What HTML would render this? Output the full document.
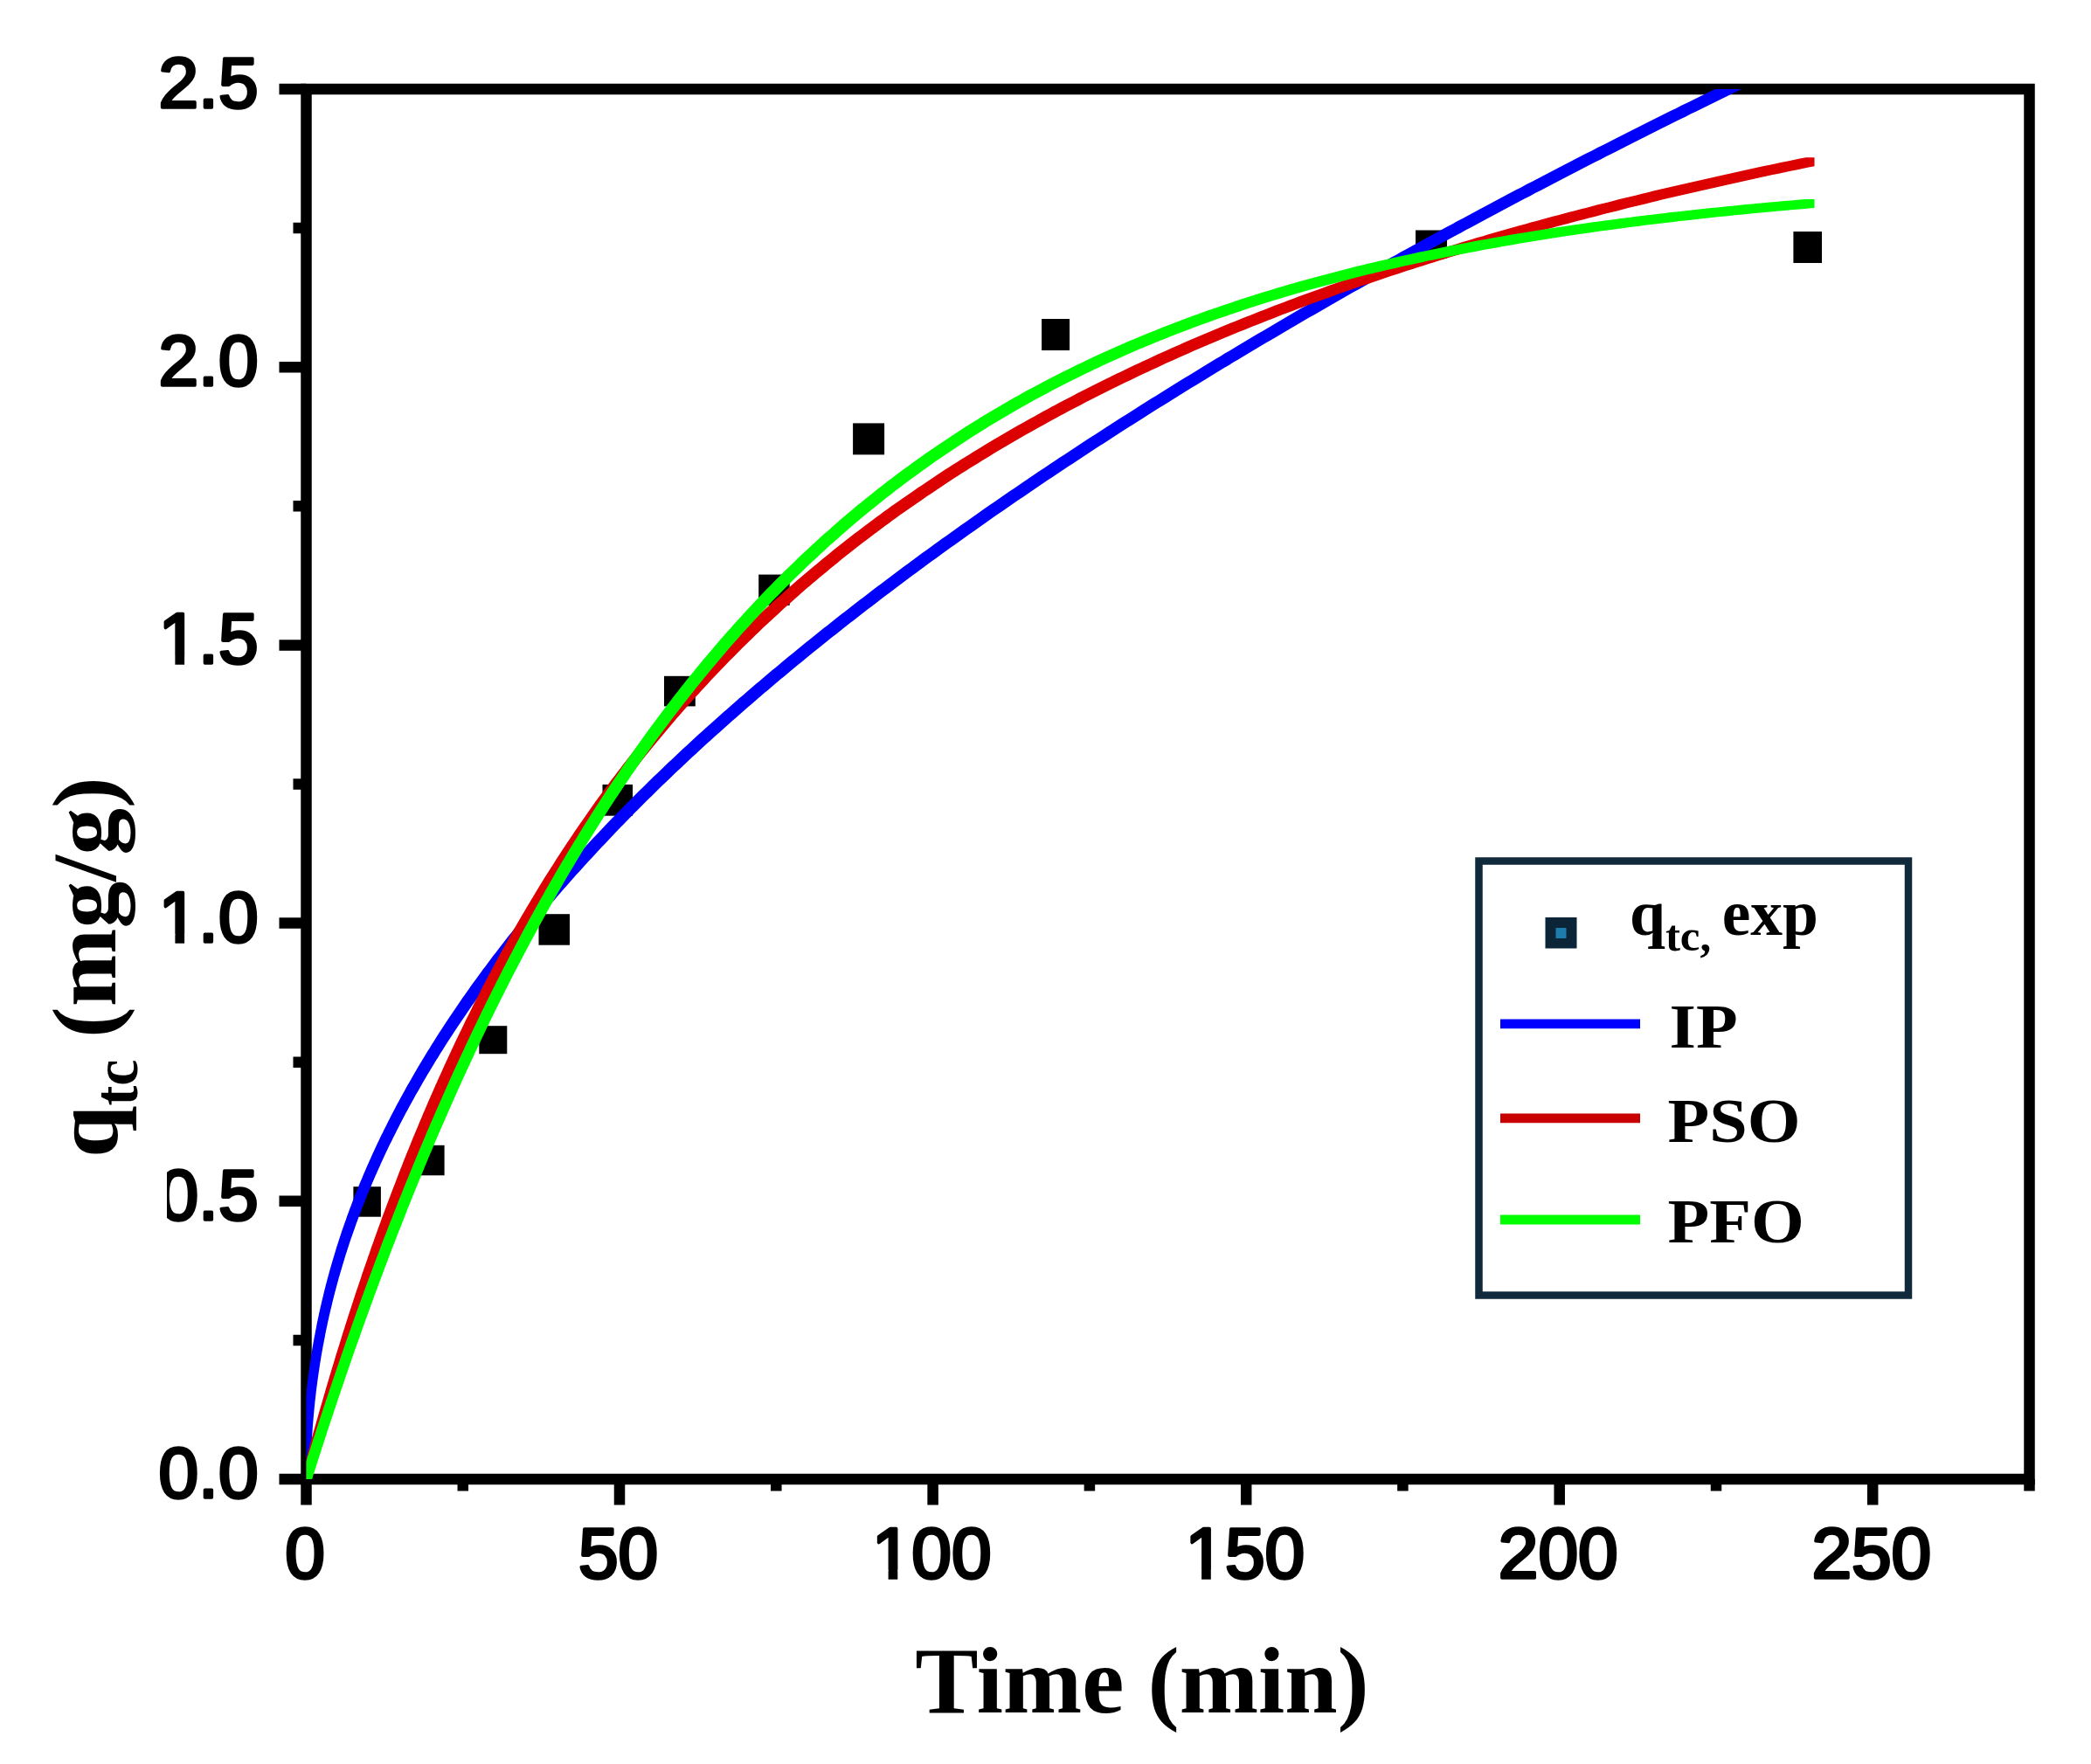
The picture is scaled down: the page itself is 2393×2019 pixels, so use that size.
<!DOCTYPE html>
<html lang="en"><head><meta charset="utf-8"><title>Adsorption kinetics</title>
<style>html,body{margin:0;padding:0;background:#fff;overflow:hidden}svg{display:block}.tk{font-family:"Liberation Sans",sans-serif;font-weight:normal;font-size:82px;fill:#000;stroke:#000;stroke-width:3.6px;stroke-linejoin:round}.ti{font-family:"Liberation Serif",serif;font-weight:bold;fill:#000}</style></head><body>
<svg width="2393" height="2019" viewBox="0 0 2393 2019">
<rect width="2393" height="2019" fill="#fff"/>
<defs><clipPath id="pc"><rect x="350.5" y="102" width="1972" height="1591"/></clipPath></defs>
<rect x="350.5" y="102" width="1972" height="1591" fill="none" stroke="#000" stroke-width="12.5"/>
<path d="M319.5,1693.0H350.5 M319.5,1374.8H350.5 M319.5,1056.6H350.5 M319.5,738.4H350.5 M319.5,420.2H350.5 M319.5,102.0H350.5 M335.5,1533.9H350.5 M335.5,1215.7H350.5 M335.5,897.5H350.5 M335.5,579.3H350.5 M335.5,261.1H350.5 M350.5,1693V1722.5 M709.0,1693V1722.5 M1067.6,1693V1722.5 M1426.2,1693V1722.5 M1784.7,1693V1722.5 M2143.2,1693V1722.5 M529.8,1693V1706.5 M888.3,1693V1706.5 M1246.9,1693V1706.5 M1605.4,1693V1706.5 M1964.0,1693V1706.5 M2322.5,1693V1706.5" stroke="#000" stroke-width="12.5" fill="none"/>
<text class="tk" x="295.5" y="1714.0" text-anchor="end">0.0</text>
<text class="tk" x="295.5" y="1395.8" text-anchor="end">0.5</text>
<text class="tk" x="295.5" y="1077.6" text-anchor="end">1.0</text>
<text class="tk" x="295.5" y="759.4" text-anchor="end">1.5</text>
<text class="tk" x="295.5" y="441.2" text-anchor="end">2.0</text>
<text class="tk" x="295.5" y="123.0" text-anchor="end">2.5</text>
<rect x="160" y="1335" width="31" height="80" fill="#fff"/>
<text class="tk" x="349.0" y="1805.5" text-anchor="middle">0</text>
<text class="tk" x="707.5" y="1805.5" text-anchor="middle">50</text>
<text class="tk" x="1066.1" y="1805.5" text-anchor="middle">100</text>
<text class="tk" x="1424.7" y="1805.5" text-anchor="middle">150</text>
<text class="tk" x="1783.2" y="1805.5" text-anchor="middle">200</text>
<text class="tk" x="2141.8" y="1805.5" text-anchor="middle">250</text>
<rect x="999.7" y="1796.9" width="16.9" height="12" fill="#fff"/>
<rect x="1027.3" y="1796.9" width="15.4" height="12" fill="#fff"/>
<rect x="1358.2" y="1796.9" width="16.9" height="12" fill="#fff"/>
<rect x="1385.8" y="1796.9" width="15.4" height="12" fill="#fff"/>
<rect x="183.5" y="1069.0" width="16.9" height="12" fill="#fff"/>
<rect x="211.1" y="1069.0" width="15.4" height="12" fill="#fff"/>
<rect x="183.5" y="750.8" width="16.9" height="12" fill="#fff"/>
<rect x="211.1" y="750.8" width="15.4" height="12" fill="#fff"/>
<text class="ti" x="1307" y="1959.5" font-size="108.5" text-anchor="middle">Time (min)</text>
<text class="ti" transform="translate(134,1325) rotate(-90) scale(1.03,1)" font-size="104">q</text>
<text class="ti" transform="translate(156.5,1265.5) rotate(-90) scale(0.96,1)" font-size="71">tc</text>
<text class="ti" transform="translate(132,1188) rotate(-90) scale(1.035,1)" font-size="104">(mg/g)</text>
<rect x="404.4" y="1358.2" width="31.5" height="34.5" fill="#000"/>
<rect x="476.6" y="1310.8" width="32" height="34.5" fill="#000"/>
<rect x="548.3" y="1174.2" width="32" height="32" fill="#000"/>
<rect x="616.5" y="1046.2" width="35.5" height="35.5" fill="#000"/>
<rect x="689.5" y="897.9" width="34.6" height="35.8" fill="#000"/>
<rect x="760.0" y="773.8" width="35.8" height="34.6" fill="#000"/>
<rect x="868.2" y="657.6" width="35.5" height="35.3" fill="#000"/>
<rect x="976.1" y="484.4" width="36" height="36" fill="#000"/>
<rect x="1192.1" y="365.0" width="32" height="36" fill="#000"/>
<rect x="1620.0" y="263.5" width="36" height="32" fill="#000"/>
<rect x="2052.4" y="265.0" width="32.6" height="36" fill="#000"/>
<g clip-path="url(#pc)" stroke="none">
<path d="M345.5,1698.0 L345.5,1688.0 L345.5,1684.5 L345.5,1681.1 L345.6,1677.6 L345.6,1674.2 L345.7,1670.7 L345.7,1667.2 L345.8,1663.8 L345.9,1660.3 L346.0,1656.9 L346.2,1653.4 L346.3,1650.0 L346.5,1646.5 L346.6,1643.1 L346.8,1639.6 L347.0,1636.2 L347.2,1632.7 L347.5,1629.3 L347.7,1625.8 L347.9,1622.4 L348.2,1618.9 L348.5,1615.5 L348.8,1612.0 L349.1,1608.6 L349.4,1605.2 L349.7,1601.7 L350.1,1598.3 L350.4,1594.9 L350.8,1591.4 L351.2,1588.0 L351.6,1584.6 L352.0,1581.1 L352.4,1577.7 L352.9,1574.3 L353.3,1570.9 L353.8,1567.5 L354.3,1564.0 L354.8,1560.6 L355.3,1557.2 L355.8,1553.8 L356.3,1550.4 L356.9,1547.0 L357.4,1543.6 L358.0,1540.2 L358.6,1536.8 L359.2,1533.4 L359.8,1530.0 L360.5,1526.7 L361.1,1523.3 L361.8,1519.9 L362.4,1516.5 L363.1,1513.1 L363.8,1509.8 L364.5,1506.4 L365.2,1503.0 L366.0,1499.7 L366.7,1496.3 L367.5,1492.9 L368.3,1489.6 L369.1,1486.2 L369.9,1482.9 L370.7,1479.5 L371.5,1476.2 L372.4,1472.8 L373.2,1469.5 L374.1,1466.2 L375.0,1462.8 L375.9,1459.5 L376.8,1456.2 L377.7,1452.8 L378.7,1449.5 L379.6,1446.2 L380.6,1442.9 L381.6,1439.6 L382.6,1436.3 L383.6,1432.9 L384.6,1429.6 L385.6,1426.3 L386.7,1423.0 L387.7,1419.7 L388.8,1416.4 L389.9,1413.1 L391.0,1409.8 L392.1,1406.6 L393.3,1403.3 L394.4,1400.0 L395.6,1396.7 L396.7,1393.4 L397.9,1390.1 L399.1,1386.9 L400.3,1383.6 L401.6,1380.3 L402.8,1377.0 L404.0,1373.8 L405.3,1370.5 L406.6,1367.2 L407.9,1364.0 L409.2,1360.7 L410.5,1357.5 L411.8,1354.2 L413.2,1351.0 L414.6,1347.7 L415.9,1344.5 L417.3,1341.2 L418.7,1338.0 L420.1,1334.7 L421.6,1331.5 L423.0,1328.2 L424.5,1325.0 L425.9,1321.7 L427.4,1318.5 L428.9,1315.3 L430.4,1312.0 L431.9,1308.8 L433.5,1305.6 L435.0,1302.3 L436.6,1299.1 L438.2,1295.9 L439.8,1292.6 L441.4,1289.4 L443.0,1286.2 L444.6,1283.0 L446.3,1279.7 L447.9,1276.5 L449.6,1273.3 L451.3,1270.1 L453.0,1266.8 L454.7,1263.6 L456.4,1260.4 L458.1,1257.2 L459.9,1254.0 L461.7,1250.7 L463.5,1247.5 L465.2,1244.3 L467.1,1241.1 L468.9,1237.9 L470.7,1234.7 L472.6,1231.5 L474.4,1228.2 L476.3,1225.0 L478.2,1221.8 L480.1,1218.6 L482.0,1215.4 L483.9,1212.2 L485.9,1209.0 L487.8,1205.8 L489.8,1202.6 L491.8,1199.4 L493.8,1196.1 L495.8,1192.9 L497.8,1189.7 L499.8,1186.5 L501.9,1183.3 L504.0,1180.1 L506.0,1176.9 L508.1,1173.7 L510.2,1170.5 L512.4,1167.3 L514.5,1164.1 L516.6,1160.9 L518.8,1157.7 L521.0,1154.5 L523.2,1151.2 L525.4,1148.0 L527.6,1144.8 L529.8,1141.6 L532.0,1138.4 L534.3,1135.2 L536.6,1132.0 L538.8,1128.8 L541.1,1125.6 L543.4,1122.4 L545.8,1119.2 L548.1,1116.0 L550.5,1112.8 L552.8,1109.6 L555.2,1106.4 L557.6,1103.2 L560.0,1100.0 L562.4,1096.8 L564.8,1093.6 L567.3,1090.4 L569.7,1087.2 L572.2,1084.0 L574.7,1080.8 L577.2,1077.5 L579.7,1074.3 L582.2,1071.1 L584.8,1067.9 L587.3,1064.7 L589.9,1061.5 L592.5,1058.3 L595.0,1055.1 L597.7,1051.9 L600.3,1048.7 L602.9,1045.5 L605.6,1042.3 L608.2,1039.1 L610.9,1035.9 L613.6,1032.7 L616.3,1029.5 L619.0,1026.3 L621.7,1023.1 L624.5,1019.9 L627.2,1016.7 L630.0,1013.5 L632.8,1010.3 L635.6,1007.1 L638.4,1003.9 L641.2,1000.7 L644.0,997.5 L646.9,994.3 L649.7,991.1 L652.6,987.9 L655.5,984.7 L658.4,981.5 L661.3,978.3 L664.3,975.1 L667.2,971.9 L670.2,968.7 L673.1,965.5 L676.1,962.3 L679.1,959.1 L682.1,955.9 L685.2,952.7 L688.2,949.5 L691.3,946.2 L694.3,943.0 L697.4,939.8 L700.5,936.6 L703.6,933.4 L706.7,930.2 L709.9,927.0 L713.0,923.8 L716.2,920.6 L719.3,917.4 L722.5,914.2 L725.7,911.0 L728.9,907.8 L732.2,904.6 L735.4,901.4 L738.7,898.2 L741.9,895.0 L745.2,891.8 L748.5,888.6 L751.8,885.4 L755.2,882.2 L758.5,879.0 L761.8,875.8 L765.2,872.6 L768.6,869.4 L772.0,866.2 L775.4,863.0 L778.8,859.8 L782.2,856.6 L785.7,853.4 L789.1,850.2 L792.6,847.0 L796.1,843.8 L799.6,840.6 L803.1,837.5 L806.6,834.3 L810.2,831.1 L813.7,827.9 L817.3,824.7 L820.9,821.5 L824.5,818.3 L828.1,815.1 L831.7,811.9 L835.3,808.7 L839.0,805.5 L842.7,802.3 L846.3,799.1 L850.0,795.9 L853.7,792.7 L857.4,789.5 L861.2,786.3 L864.9,783.1 L868.7,779.9 L872.4,776.7 L876.2,773.5 L880.0,770.3 L883.8,767.1 L887.7,763.9 L891.5,760.7 L895.3,757.5 L899.2,754.3 L903.1,751.1 L907.0,747.9 L910.9,744.7 L914.8,741.5 L918.7,738.3 L922.7,735.1 L926.6,731.9 L930.6,728.7 L934.6,725.5 L938.6,722.3 L942.6,719.1 L946.7,715.9 L950.7,712.7 L954.7,709.5 L958.8,706.3 L962.9,703.1 L967.0,699.9 L971.1,696.7 L975.2,693.5 L979.4,690.3 L983.5,687.1 L987.7,683.9 L991.9,680.7 L996.0,677.5 L1000.2,674.3 L1004.5,671.1 L1008.7,667.9 L1012.9,664.7 L1017.2,661.4 L1021.5,658.2 L1025.8,655.0 L1030.1,651.8 L1034.4,648.6 L1038.7,645.4 L1043.0,642.2 L1047.4,639.0 L1051.7,635.8 L1056.1,632.6 L1060.5,629.4 L1064.9,626.2 L1069.3,623.0 L1073.8,619.8 L1078.2,616.6 L1082.7,613.4 L1087.2,610.2 L1091.7,607.0 L1096.2,603.8 L1100.7,600.6 L1105.2,597.4 L1109.7,594.2 L1114.3,591.0 L1118.9,587.8 L1123.4,584.5 L1128.0,581.3 L1132.7,578.1 L1137.3,574.9 L1141.9,571.7 L1146.6,568.5 L1151.2,565.3 L1155.9,562.1 L1160.6,558.9 L1165.3,555.7 L1170.0,552.5 L1174.8,549.3 L1179.5,546.1 L1184.3,542.8 L1189.0,539.6 L1193.8,536.4 L1198.6,533.2 L1203.4,530.0 L1208.3,526.8 L1213.1,523.6 L1218.0,520.4 L1222.8,517.2 L1227.7,514.0 L1232.6,510.7 L1237.5,507.5 L1242.4,504.3 L1247.4,501.1 L1252.3,497.9 L1257.3,494.7 L1262.2,491.5 L1267.2,488.3 L1272.2,485.0 L1277.3,481.8 L1282.3,478.6 L1287.3,475.4 L1292.4,472.2 L1297.5,469.0 L1302.5,465.8 L1307.6,462.5 L1312.7,459.3 L1317.9,456.1 L1323.0,452.9 L1328.2,449.7 L1333.3,446.5 L1338.5,443.3 L1343.7,440.0 L1348.9,436.8 L1354.1,433.6 L1359.3,430.4 L1364.6,427.2 L1369.9,424.0 L1375.1,420.7 L1380.4,417.5 L1385.7,414.3 L1391.0,411.1 L1396.4,407.9 L1401.7,404.6 L1407.1,401.4 L1412.4,398.2 L1417.8,395.0 L1423.2,391.8 L1428.6,388.5 L1434.0,385.3 L1439.5,382.1 L1444.9,378.9 L1450.4,375.7 L1455.9,372.4 L1461.3,369.2 L1466.8,366.0 L1472.4,362.8 L1477.9,359.6 L1483.4,356.3 L1489.0,353.1 L1494.6,349.9 L1500.2,346.7 L1505.8,343.4 L1511.4,340.2 L1517.0,337.0 L1522.6,333.8 L1528.3,330.6 L1533.9,327.3 L1539.6,324.1 L1545.3,320.9 L1551.0,317.7 L1556.7,314.4 L1562.5,311.2 L1568.2,308.0 L1574.0,304.8 L1579.8,301.5 L1585.6,298.3 L1591.4,295.1 L1597.2,291.9 L1603.0,288.6 L1608.8,285.4 L1614.7,282.2 L1620.6,279.0 L1626.4,275.7 L1632.3,272.5 L1638.3,269.3 L1644.2,266.0 L1650.1,262.8 L1656.1,259.6 L1662.0,256.4 L1668.0,253.1 L1674.0,249.9 L1680.0,246.7 L1686.0,243.4 L1692.0,240.2 L1698.1,237.0 L1704.2,233.8 L1710.2,230.5 L1716.3,227.3 L1722.4,224.1 L1728.5,220.8 L1734.6,217.6 L1740.8,214.4 L1746.9,211.1 L1753.1,207.9 L1759.3,204.7 L1765.5,201.5 L1771.7,198.2 L1777.9,195.0 L1784.1,191.8 L1790.4,188.5 L1796.7,185.3 L1802.9,182.1 L1809.2,178.8 L1815.5,175.6 L1821.8,172.4 L1828.2,169.1 L1834.5,165.9 L1840.9,162.7 L1847.2,159.4 L1853.6,156.2 L1860.0,153.0 L1866.4,149.7 L1872.9,146.5 L1879.3,143.3 L1885.7,140.0 L1892.2,136.8 L1898.7,133.6 L1905.2,130.3 L1911.7,127.1 L1918.2,123.9 L1924.7,120.6 L1931.3,117.4 L1937.8,114.2 L1944.4,110.9 L1951.0,107.7 L1957.6,104.5 L1964.2,101.2 L1970.8,98.0 L1977.5,94.8 L1984.1,91.5 L1990.8,88.3 L1997.5,85.0 L2004.2,81.8 L2010.9,78.6 L2017.6,75.3 L2024.3,72.1 L2031.1,68.9 L2037.9,65.6 L2047.9,65.6 L2047.9,75.6 L2041.1,78.9 L2034.3,82.1 L2027.6,85.3 L2020.9,88.6 L2014.2,91.8 L2007.5,95.0 L2000.8,98.3 L1994.1,101.5 L1987.5,104.8 L1980.8,108.0 L1974.2,111.2 L1967.6,114.5 L1961.0,117.7 L1954.4,120.9 L1947.8,124.2 L1941.3,127.4 L1934.7,130.6 L1928.2,133.9 L1921.7,137.1 L1915.2,140.3 L1908.7,143.6 L1902.2,146.8 L1895.7,150.0 L1889.3,153.3 L1882.9,156.5 L1876.4,159.7 L1870.0,163.0 L1863.6,166.2 L1857.2,169.4 L1850.9,172.7 L1844.5,175.9 L1838.2,179.1 L1831.8,182.4 L1825.5,185.6 L1819.2,188.8 L1812.9,192.1 L1806.7,195.3 L1800.4,198.5 L1794.1,201.8 L1787.9,205.0 L1781.7,208.2 L1775.5,211.5 L1769.3,214.7 L1763.1,217.9 L1756.9,221.1 L1750.8,224.4 L1744.6,227.6 L1738.5,230.8 L1732.4,234.1 L1726.3,237.3 L1720.2,240.5 L1714.2,243.8 L1708.1,247.0 L1702.0,250.2 L1696.0,253.4 L1690.0,256.7 L1684.0,259.9 L1678.0,263.1 L1672.0,266.4 L1666.1,269.6 L1660.1,272.8 L1654.2,276.0 L1648.3,279.3 L1642.3,282.5 L1636.4,285.7 L1630.6,289.0 L1624.7,292.2 L1618.8,295.4 L1613.0,298.6 L1607.2,301.9 L1601.4,305.1 L1595.6,308.3 L1589.8,311.5 L1584.0,314.8 L1578.2,318.0 L1572.5,321.2 L1566.7,324.4 L1561.0,327.7 L1555.3,330.9 L1549.6,334.1 L1543.9,337.3 L1538.3,340.6 L1532.6,343.8 L1527.0,347.0 L1521.4,350.2 L1515.8,353.4 L1510.2,356.7 L1504.6,359.9 L1499.0,363.1 L1493.4,366.3 L1487.9,369.6 L1482.4,372.8 L1476.8,376.0 L1471.3,379.2 L1465.9,382.4 L1460.4,385.7 L1454.9,388.9 L1449.5,392.1 L1444.0,395.3 L1438.6,398.5 L1433.2,401.8 L1427.8,405.0 L1422.4,408.2 L1417.1,411.4 L1411.7,414.6 L1406.4,417.9 L1401.0,421.1 L1395.7,424.3 L1390.4,427.5 L1385.1,430.7 L1379.9,434.0 L1374.6,437.2 L1369.3,440.4 L1364.1,443.6 L1358.9,446.8 L1353.7,450.0 L1348.5,453.3 L1343.3,456.5 L1338.2,459.7 L1333.0,462.9 L1327.9,466.1 L1322.7,469.3 L1317.6,472.5 L1312.5,475.8 L1307.5,479.0 L1302.4,482.2 L1297.3,485.4 L1292.3,488.6 L1287.3,491.8 L1282.2,495.0 L1277.2,498.3 L1272.2,501.5 L1267.3,504.7 L1262.3,507.9 L1257.4,511.1 L1252.4,514.3 L1247.5,517.5 L1242.6,520.7 L1237.7,524.0 L1232.8,527.2 L1228.0,530.4 L1223.1,533.6 L1218.3,536.8 L1213.4,540.0 L1208.6,543.2 L1203.8,546.4 L1199.0,549.6 L1194.3,552.8 L1189.5,556.1 L1184.8,559.3 L1180.0,562.5 L1175.3,565.7 L1170.6,568.9 L1165.9,572.1 L1161.2,575.3 L1156.6,578.5 L1151.9,581.7 L1147.3,584.9 L1142.7,588.1 L1138.0,591.3 L1133.4,594.5 L1128.9,597.8 L1124.3,601.0 L1119.7,604.2 L1115.2,607.4 L1110.7,610.6 L1106.2,613.8 L1101.7,617.0 L1097.2,620.2 L1092.7,623.4 L1088.2,626.6 L1083.8,629.8 L1079.3,633.0 L1074.9,636.2 L1070.5,639.4 L1066.1,642.6 L1061.7,645.8 L1057.4,649.0 L1053.0,652.2 L1048.7,655.4 L1044.4,658.6 L1040.1,661.8 L1035.8,665.0 L1031.5,668.2 L1027.2,671.4 L1022.9,674.7 L1018.7,677.9 L1014.5,681.1 L1010.2,684.3 L1006.0,687.5 L1001.9,690.7 L997.7,693.9 L993.5,697.1 L989.4,700.3 L985.2,703.5 L981.1,706.7 L977.0,709.9 L972.9,713.1 L968.8,716.3 L964.7,719.5 L960.7,722.7 L956.7,725.9 L952.6,729.1 L948.6,732.3 L944.6,735.5 L940.6,738.7 L936.6,741.9 L932.7,745.1 L928.7,748.3 L924.8,751.5 L920.9,754.7 L917.0,757.9 L913.1,761.1 L909.2,764.3 L905.3,767.5 L901.5,770.7 L897.7,773.9 L893.8,777.1 L890.0,780.3 L886.2,783.5 L882.4,786.7 L878.7,789.9 L874.9,793.1 L871.2,796.3 L867.4,799.5 L863.7,802.7 L860.0,805.9 L856.3,809.1 L852.7,812.3 L849.0,815.5 L845.3,818.7 L841.7,821.9 L838.1,825.1 L834.5,828.3 L830.9,831.5 L827.3,834.7 L823.7,837.9 L820.2,841.1 L816.6,844.3 L813.1,847.5 L809.6,850.6 L806.1,853.8 L802.6,857.0 L799.1,860.2 L795.7,863.4 L792.2,866.6 L788.8,869.8 L785.4,873.0 L782.0,876.2 L778.6,879.4 L775.2,882.6 L771.8,885.8 L768.5,889.0 L765.2,892.2 L761.8,895.4 L758.5,898.6 L755.2,901.8 L751.9,905.0 L748.7,908.2 L745.4,911.4 L742.2,914.6 L738.9,917.8 L735.7,921.0 L732.5,924.2 L729.3,927.4 L726.2,930.6 L723.0,933.8 L719.9,937.0 L716.7,940.2 L713.6,943.4 L710.5,946.6 L707.4,949.8 L704.3,953.0 L701.3,956.2 L698.2,959.5 L695.2,962.7 L692.1,965.9 L689.1,969.1 L686.1,972.3 L683.1,975.5 L680.2,978.7 L677.2,981.9 L674.3,985.1 L671.3,988.3 L668.4,991.5 L665.5,994.7 L662.6,997.9 L659.7,1001.1 L656.9,1004.3 L654.0,1007.5 L651.2,1010.7 L648.4,1013.9 L645.6,1017.1 L642.8,1020.3 L640.0,1023.5 L637.2,1026.7 L634.5,1029.9 L631.7,1033.1 L629.0,1036.3 L626.3,1039.5 L623.6,1042.7 L620.9,1045.9 L618.2,1049.1 L615.6,1052.3 L612.9,1055.5 L610.3,1058.7 L607.7,1061.9 L605.0,1065.1 L602.5,1068.3 L599.9,1071.5 L597.3,1074.7 L594.8,1077.9 L592.2,1081.1 L589.7,1084.3 L587.2,1087.5 L584.7,1090.8 L582.2,1094.0 L579.7,1097.2 L577.3,1100.4 L574.8,1103.6 L572.4,1106.8 L570.0,1110.0 L567.6,1113.2 L565.2,1116.4 L562.8,1119.6 L560.5,1122.8 L558.1,1126.0 L555.8,1129.2 L553.4,1132.4 L551.1,1135.6 L548.8,1138.8 L546.6,1142.0 L544.3,1145.2 L542.0,1148.4 L539.8,1151.6 L537.6,1154.8 L535.4,1158.0 L533.2,1161.2 L531.0,1164.5 L528.8,1167.7 L526.6,1170.9 L524.5,1174.1 L522.4,1177.3 L520.2,1180.5 L518.1,1183.7 L516.0,1186.9 L514.0,1190.1 L511.9,1193.3 L509.8,1196.5 L507.8,1199.7 L505.8,1202.9 L503.8,1206.1 L501.8,1209.4 L499.8,1212.6 L497.8,1215.8 L495.9,1219.0 L493.9,1222.2 L492.0,1225.4 L490.1,1228.6 L488.2,1231.8 L486.3,1235.0 L484.4,1238.2 L482.6,1241.5 L480.7,1244.7 L478.9,1247.9 L477.1,1251.1 L475.2,1254.3 L473.5,1257.5 L471.7,1260.7 L469.9,1264.0 L468.1,1267.2 L466.4,1270.4 L464.7,1273.6 L463.0,1276.8 L461.3,1280.1 L459.6,1283.3 L457.9,1286.5 L456.3,1289.7 L454.6,1293.0 L453.0,1296.2 L451.4,1299.4 L449.8,1302.6 L448.2,1305.9 L446.6,1309.1 L445.0,1312.3 L443.5,1315.6 L441.9,1318.8 L440.4,1322.0 L438.9,1325.3 L437.4,1328.5 L435.9,1331.7 L434.5,1335.0 L433.0,1338.2 L431.6,1341.5 L430.1,1344.7 L428.7,1348.0 L427.3,1351.2 L425.9,1354.5 L424.6,1357.7 L423.2,1361.0 L421.8,1364.2 L420.5,1367.5 L419.2,1370.7 L417.9,1374.0 L416.6,1377.2 L415.3,1380.5 L414.0,1383.8 L412.8,1387.0 L411.6,1390.3 L410.3,1393.6 L409.1,1396.9 L407.9,1400.1 L406.7,1403.4 L405.6,1406.7 L404.4,1410.0 L403.3,1413.3 L402.1,1416.6 L401.0,1419.8 L399.9,1423.1 L398.8,1426.4 L397.7,1429.7 L396.7,1433.0 L395.6,1436.3 L394.6,1439.6 L393.6,1442.9 L392.6,1446.3 L391.6,1449.6 L390.6,1452.9 L389.6,1456.2 L388.7,1459.5 L387.7,1462.8 L386.8,1466.2 L385.9,1469.5 L385.0,1472.8 L384.1,1476.2 L383.2,1479.5 L382.4,1482.8 L381.5,1486.2 L380.7,1489.5 L379.9,1492.9 L379.1,1496.2 L378.3,1499.6 L377.5,1502.9 L376.7,1506.3 L376.0,1509.7 L375.2,1513.0 L374.5,1516.4 L373.8,1519.8 L373.1,1523.1 L372.4,1526.5 L371.8,1529.9 L371.1,1533.3 L370.5,1536.7 L369.8,1540.0 L369.2,1543.4 L368.6,1546.8 L368.0,1550.2 L367.4,1553.6 L366.9,1557.0 L366.3,1560.4 L365.8,1563.8 L365.3,1567.2 L364.8,1570.6 L364.3,1574.0 L363.8,1577.5 L363.3,1580.9 L362.9,1584.3 L362.4,1587.7 L362.0,1591.1 L361.6,1594.6 L361.2,1598.0 L360.8,1601.4 L360.4,1604.9 L360.1,1608.3 L359.7,1611.7 L359.4,1615.2 L359.1,1618.6 L358.8,1622.0 L358.5,1625.5 L358.2,1628.9 L357.9,1632.4 L357.7,1635.8 L357.5,1639.3 L357.2,1642.7 L357.0,1646.2 L356.8,1649.6 L356.6,1653.1 L356.5,1656.5 L356.3,1660.0 L356.2,1663.4 L356.0,1666.9 L355.9,1670.3 L355.8,1673.8 L355.7,1677.2 L355.7,1680.7 L355.6,1684.2 L355.6,1687.6 L355.5,1691.1 L355.5,1694.5 L355.5,1698.0Z" fill="#0000ff"/>
<path d="M345.5,1698.0 L345.5,1688.0 L345.5,1688.0 L345.5,1687.9 L345.6,1687.8 L345.6,1687.6 L345.7,1687.4 L345.7,1687.1 L345.8,1686.7 L345.9,1686.3 L346.1,1685.9 L346.2,1685.4 L346.3,1684.9 L346.5,1684.3 L346.7,1683.6 L346.8,1682.9 L347.0,1682.2 L347.3,1681.4 L347.5,1680.5 L347.7,1679.6 L348.0,1678.7 L348.3,1677.7 L348.5,1676.6 L348.8,1675.5 L349.1,1674.4 L349.5,1673.2 L349.8,1671.9 L350.2,1670.6 L350.5,1669.2 L350.9,1667.8 L351.3,1666.4 L351.7,1664.9 L352.1,1663.4 L352.5,1661.8 L353.0,1660.1 L353.5,1658.4 L353.9,1656.7 L354.4,1654.9 L354.9,1653.1 L355.4,1651.2 L356.0,1649.3 L356.5,1647.3 L357.1,1645.3 L357.6,1643.2 L358.2,1641.1 L358.8,1639.0 L359.4,1636.8 L360.1,1634.5 L360.7,1632.3 L361.4,1629.9 L362.0,1627.6 L362.7,1625.2 L363.4,1622.7 L364.1,1620.2 L364.8,1617.7 L365.6,1615.1 L366.3,1612.5 L367.1,1609.8 L367.9,1607.1 L368.7,1604.4 L369.5,1601.6 L370.3,1598.8 L371.1,1595.9 L372.0,1593.0 L372.8,1590.1 L373.7,1587.1 L374.6,1584.1 L375.5,1581.0 L376.4,1578.0 L377.3,1574.8 L378.3,1571.7 L379.2,1568.5 L380.2,1565.3 L381.2,1562.0 L382.2,1558.7 L383.2,1555.4 L384.2,1552.0 L385.3,1548.6 L386.3,1545.2 L387.4,1541.8 L388.5,1538.3 L389.6,1534.8 L390.7,1531.2 L391.8,1527.6 L392.9,1524.0 L394.1,1520.4 L395.2,1516.7 L396.4,1513.0 L397.6,1509.3 L398.8,1505.6 L400.0,1501.8 L401.3,1498.0 L402.5,1494.2 L403.8,1490.3 L405.0,1486.4 L406.3,1482.5 L407.6,1478.6 L408.9,1474.7 L410.3,1470.7 L411.6,1466.7 L413.0,1462.7 L414.3,1458.6 L415.7,1454.6 L417.1,1450.5 L418.5,1446.4 L420.0,1442.3 L421.4,1438.1 L422.9,1434.0 L424.3,1429.8 L425.8,1425.6 L427.3,1421.4 L428.8,1417.1 L430.3,1412.9 L431.9,1408.6 L433.4,1404.3 L435.0,1400.0 L436.5,1395.7 L438.1,1391.3 L439.7,1387.0 L441.4,1382.6 L443.0,1378.2 L444.6,1373.9 L446.3,1369.5 L448.0,1365.0 L449.7,1360.6 L451.4,1356.2 L453.1,1351.7 L454.8,1347.2 L456.5,1342.8 L458.3,1338.3 L460.1,1333.8 L461.8,1329.3 L463.6,1324.8 L465.4,1320.2 L467.3,1315.7 L469.1,1311.2 L471.0,1306.6 L472.8,1302.1 L474.7,1297.5 L476.6,1292.9 L478.5,1288.4 L480.4,1283.8 L482.4,1279.2 L484.3,1274.6 L486.3,1270.0 L488.2,1265.4 L490.2,1260.8 L492.2,1256.2 L494.3,1251.5 L496.3,1246.9 L498.3,1242.3 L500.4,1237.7 L502.5,1233.0 L504.6,1228.4 L506.7,1223.8 L508.8,1219.1 L510.9,1214.5 L513.0,1209.9 L515.2,1205.2 L517.4,1200.6 L519.5,1196.0 L521.7,1191.3 L523.9,1186.7 L526.2,1182.0 L528.4,1177.4 L530.7,1172.8 L532.9,1168.1 L535.2,1163.5 L537.5,1158.9 L539.8,1154.2 L542.1,1149.6 L544.5,1145.0 L546.8,1140.4 L549.2,1135.8 L551.5,1131.1 L553.9,1126.5 L556.3,1121.9 L558.7,1117.3 L561.2,1112.7 L563.6,1108.1 L566.1,1103.5 L568.5,1099.0 L571.0,1094.4 L573.5,1089.8 L576.0,1085.2 L578.6,1080.7 L581.1,1076.1 L583.7,1071.6 L586.2,1067.0 L588.8,1062.5 L591.4,1057.9 L594.0,1053.4 L596.6,1048.9 L599.3,1044.4 L601.9,1039.9 L604.6,1035.4 L607.3,1030.9 L610.0,1026.4 L612.7,1022.0 L615.4,1017.5 L618.1,1013.0 L620.9,1008.6 L623.6,1004.1 L626.4,999.7 L629.2,995.3 L632.0,990.9 L634.8,986.5 L637.6,982.1 L640.5,977.7 L643.3,973.3 L646.2,969.0 L649.1,964.6 L652.0,960.3 L654.9,955.9 L657.8,951.6 L660.8,947.3 L663.7,943.0 L666.7,938.7 L669.7,934.4 L672.7,930.1 L675.7,925.8 L678.7,921.6 L681.7,917.3 L684.8,913.1 L687.8,908.9 L690.9,904.7 L694.0,900.5 L697.1,896.3 L700.2,892.1 L703.4,888.0 L706.5,883.8 L709.7,879.7 L712.8,875.5 L716.0,871.4 L719.2,867.3 L722.4,863.2 L725.7,859.1 L728.9,855.1 L732.2,851.0 L735.4,846.9 L738.7,842.9 L742.0,838.9 L745.3,834.9 L748.7,830.9 L752.0,826.9 L755.4,822.9 L758.7,819.0 L762.1,815.0 L765.5,811.1 L768.9,807.2 L772.3,803.2 L775.8,799.3 L779.2,795.5 L782.7,791.6 L786.1,787.7 L789.6,783.9 L793.1,780.0 L796.7,776.2 L800.2,772.4 L803.7,768.6 L807.3,764.8 L810.9,761.1 L814.5,757.3 L818.1,753.6 L821.7,749.8 L825.3,746.1 L828.9,742.4 L832.6,738.7 L836.3,735.0 L839.9,731.3 L843.6,727.7 L847.4,724.1 L851.1,720.4 L854.8,716.8 L858.6,713.2 L862.3,709.6 L866.1,706.0 L869.9,702.5 L873.7,698.9 L877.5,695.4 L881.4,691.9 L885.2,688.3 L889.1,684.8 L893.0,681.4 L896.8,677.9 L900.7,674.4 L904.7,671.0 L908.6,667.5 L912.5,664.1 L916.5,660.7 L920.5,657.3 L924.5,653.9 L928.5,650.6 L932.5,647.2 L936.5,643.9 L940.5,640.5 L944.6,637.2 L948.7,633.9 L952.7,630.6 L956.8,627.3 L961.0,624.1 L965.1,620.8 L969.2,617.6 L973.4,614.3 L977.5,611.1 L981.7,607.9 L985.9,604.7 L990.1,601.5 L994.3,598.4 L998.6,595.2 L1002.8,592.1 L1007.1,589.0 L1011.3,585.8 L1015.6,582.7 L1019.9,579.6 L1024.3,576.6 L1028.6,573.5 L1032.9,570.4 L1037.3,567.4 L1041.7,564.4 L1046.0,561.4 L1050.4,558.3 L1054.9,555.4 L1059.3,552.4 L1063.7,549.4 L1068.2,546.4 L1072.6,543.5 L1077.1,540.6 L1081.6,537.6 L1086.1,534.7 L1090.6,531.8 L1095.2,529.0 L1099.7,526.1 L1104.3,523.2 L1108.9,520.4 L1113.5,517.5 L1118.1,514.7 L1122.7,511.9 L1127.3,509.1 L1132.0,506.3 L1136.6,503.5 L1141.3,500.8 L1146.0,498.0 L1150.7,495.3 L1155.4,492.5 L1160.1,489.8 L1164.9,487.1 L1169.6,484.4 L1174.4,481.7 L1179.2,479.0 L1184.0,476.4 L1188.8,473.7 L1193.6,471.1 L1198.5,468.4 L1203.3,465.8 L1208.2,463.2 L1213.1,460.6 L1218.0,458.0 L1222.9,455.4 L1227.8,452.9 L1232.7,450.3 L1237.7,447.8 L1242.7,445.2 L1247.6,442.7 L1252.6,440.2 L1257.6,437.7 L1262.6,435.2 L1267.7,432.7 L1272.7,430.3 L1277.8,427.8 L1282.9,425.4 L1287.9,422.9 L1293.0,420.5 L1298.2,418.1 L1303.3,415.7 L1308.4,413.3 L1313.6,410.9 L1318.8,408.5 L1323.9,406.1 L1329.1,403.8 L1334.3,401.4 L1339.6,399.1 L1344.8,396.8 L1350.1,394.5 L1355.3,392.1 L1360.6,389.8 L1365.9,387.6 L1371.2,385.3 L1376.5,383.0 L1381.9,380.8 L1387.2,378.5 L1392.6,376.3 L1398.0,374.0 L1403.3,371.8 L1408.8,369.6 L1414.2,367.4 L1419.6,365.2 L1425.0,363.0 L1430.5,360.9 L1436.0,358.7 L1441.5,356.5 L1447.0,354.4 L1452.5,352.3 L1458.0,350.1 L1463.5,348.0 L1469.1,345.9 L1474.7,343.8 L1480.3,341.7 L1485.9,339.6 L1491.5,337.6 L1497.1,335.5 L1502.7,333.5 L1508.4,331.4 L1514.0,329.4 L1519.7,327.3 L1525.4,325.3 L1531.1,323.3 L1536.8,321.3 L1542.6,319.3 L1548.3,317.3 L1554.1,315.4 L1559.9,313.4 L1565.7,311.4 L1571.5,309.5 L1577.3,307.5 L1583.1,305.6 L1589.0,303.7 L1594.8,301.8 L1600.7,299.8 L1606.6,297.9 L1612.5,296.0 L1618.4,294.2 L1624.3,292.3 L1630.2,290.4 L1636.2,288.5 L1642.2,286.7 L1648.2,284.8 L1654.2,283.0 L1660.2,281.2 L1666.2,279.4 L1672.2,277.5 L1678.3,275.7 L1684.3,273.9 L1690.4,272.1 L1696.5,270.4 L1702.6,268.6 L1708.7,266.8 L1714.9,265.1 L1721.0,263.3 L1727.2,261.6 L1733.4,259.8 L1739.5,258.1 L1745.7,256.4 L1752.0,254.6 L1758.2,252.9 L1764.4,251.2 L1770.7,249.5 L1777.0,247.8 L1783.2,246.2 L1789.5,244.5 L1795.9,242.8 L1802.2,241.2 L1808.5,239.5 L1814.9,237.9 L1821.3,236.2 L1827.6,234.6 L1834.0,233.0 L1840.4,231.4 L1846.9,229.7 L1853.3,228.1 L1859.7,226.5 L1866.2,224.9 L1872.7,223.4 L1879.2,221.8 L1885.7,220.2 L1892.2,218.6 L1898.7,217.1 L1905.3,215.5 L1911.8,214.0 L1918.4,212.5 L1925.0,210.9 L1931.6,209.4 L1938.2,207.9 L1944.9,206.4 L1951.5,204.9 L1958.2,203.4 L1964.8,201.9 L1971.5,200.4 L1978.2,198.9 L1984.9,197.4 L1991.6,195.9 L1998.4,194.5 L2005.1,193.0 L2011.9,191.6 L2018.7,190.1 L2025.5,188.7 L2032.3,187.3 L2039.1,185.8 L2045.9,184.4 L2052.8,183.0 L2059.7,181.6 L2066.5,180.2 L2076.5,180.2 L2076.5,190.2 L2069.7,191.6 L2062.8,193.0 L2055.9,194.4 L2049.1,195.8 L2042.3,197.3 L2035.5,198.7 L2028.7,200.1 L2021.9,201.6 L2015.1,203.0 L2008.4,204.5 L2001.6,205.9 L1994.9,207.4 L1988.2,208.9 L1981.5,210.4 L1974.8,211.9 L1968.2,213.4 L1961.5,214.9 L1954.9,216.4 L1948.2,217.9 L1941.6,219.4 L1935.0,220.9 L1928.4,222.5 L1921.8,224.0 L1915.3,225.5 L1908.7,227.1 L1902.2,228.6 L1895.7,230.2 L1889.2,231.8 L1882.7,233.4 L1876.2,234.9 L1869.7,236.5 L1863.3,238.1 L1856.9,239.7 L1850.4,241.4 L1844.0,243.0 L1837.6,244.6 L1831.3,246.2 L1824.9,247.9 L1818.5,249.5 L1812.2,251.2 L1805.9,252.8 L1799.5,254.5 L1793.2,256.2 L1787.0,257.8 L1780.7,259.5 L1774.4,261.2 L1768.2,262.9 L1762.0,264.6 L1755.7,266.4 L1749.5,268.1 L1743.4,269.8 L1737.2,271.6 L1731.0,273.3 L1724.9,275.1 L1718.7,276.8 L1712.6,278.6 L1706.5,280.4 L1700.4,282.1 L1694.3,283.9 L1688.3,285.7 L1682.2,287.5 L1676.2,289.4 L1670.2,291.2 L1664.2,293.0 L1658.2,294.8 L1652.2,296.7 L1646.2,298.5 L1640.2,300.4 L1634.3,302.3 L1628.4,304.2 L1622.5,306.0 L1616.6,307.9 L1610.7,309.8 L1604.8,311.8 L1599.0,313.7 L1593.1,315.6 L1587.3,317.5 L1581.5,319.5 L1575.7,321.4 L1569.9,323.4 L1564.1,325.4 L1558.3,327.3 L1552.6,329.3 L1546.8,331.3 L1541.1,333.3 L1535.4,335.3 L1529.7,337.3 L1524.0,339.4 L1518.4,341.4 L1512.7,343.5 L1507.1,345.5 L1501.5,347.6 L1495.9,349.6 L1490.3,351.7 L1484.7,353.8 L1479.1,355.9 L1473.5,358.0 L1468.0,360.1 L1462.5,362.3 L1457.0,364.4 L1451.5,366.5 L1446.0,368.7 L1440.5,370.9 L1435.0,373.0 L1429.6,375.2 L1424.2,377.4 L1418.8,379.6 L1413.3,381.8 L1408.0,384.0 L1402.6,386.3 L1397.2,388.5 L1391.9,390.8 L1386.5,393.0 L1381.2,395.3 L1375.9,397.6 L1370.6,399.8 L1365.3,402.1 L1360.1,404.5 L1354.8,406.8 L1349.6,409.1 L1344.3,411.4 L1339.1,413.8 L1333.9,416.1 L1328.8,418.5 L1323.6,420.9 L1318.4,423.3 L1313.3,425.7 L1308.2,428.1 L1303.0,430.5 L1297.9,432.9 L1292.9,435.4 L1287.8,437.8 L1282.7,440.3 L1277.7,442.7 L1272.6,445.2 L1267.6,447.7 L1262.6,450.2 L1257.6,452.7 L1252.7,455.2 L1247.7,457.8 L1242.7,460.3 L1237.8,462.9 L1232.9,465.4 L1228.0,468.0 L1223.1,470.6 L1218.2,473.2 L1213.3,475.8 L1208.5,478.4 L1203.6,481.1 L1198.8,483.7 L1194.0,486.4 L1189.2,489.0 L1184.4,491.7 L1179.6,494.4 L1174.9,497.1 L1170.1,499.8 L1165.4,502.5 L1160.7,505.3 L1156.0,508.0 L1151.3,510.8 L1146.6,513.5 L1142.0,516.3 L1137.3,519.1 L1132.7,521.9 L1128.1,524.7 L1123.5,527.5 L1118.9,530.4 L1114.3,533.2 L1109.7,536.1 L1105.2,539.0 L1100.6,541.8 L1096.1,544.7 L1091.6,547.6 L1087.1,550.6 L1082.6,553.5 L1078.2,556.4 L1073.7,559.4 L1069.3,562.4 L1064.9,565.4 L1060.4,568.3 L1056.0,571.4 L1051.7,574.4 L1047.3,577.4 L1042.9,580.4 L1038.6,583.5 L1034.3,586.6 L1029.9,589.6 L1025.6,592.7 L1021.3,595.8 L1017.1,599.0 L1012.8,602.1 L1008.6,605.2 L1004.3,608.4 L1000.1,611.5 L995.9,614.7 L991.7,617.9 L987.5,621.1 L983.4,624.3 L979.2,627.6 L975.1,630.8 L971.0,634.1 L966.8,637.3 L962.7,640.6 L958.7,643.9 L954.6,647.2 L950.5,650.5 L946.5,653.9 L942.5,657.2 L938.5,660.6 L934.5,663.9 L930.5,667.3 L926.5,670.7 L922.5,674.1 L918.6,677.5 L914.7,681.0 L910.7,684.4 L906.8,687.9 L903.0,691.4 L899.1,694.8 L895.2,698.3 L891.4,701.9 L887.5,705.4 L883.7,708.9 L879.9,712.5 L876.1,716.0 L872.3,719.6 L868.6,723.2 L864.8,726.8 L861.1,730.4 L857.4,734.1 L853.6,737.7 L849.9,741.3 L846.3,745.0 L842.6,748.7 L838.9,752.4 L835.3,756.1 L831.7,759.8 L828.1,763.6 L824.5,767.3 L820.9,771.1 L817.3,774.8 L813.7,778.6 L810.2,782.4 L806.7,786.2 L803.1,790.0 L799.6,793.9 L796.1,797.7 L792.7,801.6 L789.2,805.5 L785.8,809.3 L782.3,813.2 L778.9,817.2 L775.5,821.1 L772.1,825.0 L768.7,829.0 L765.4,832.9 L762.0,836.9 L758.7,840.9 L755.3,844.9 L752.0,848.9 L748.7,852.9 L745.4,856.9 L742.2,861.0 L738.9,865.1 L735.7,869.1 L732.4,873.2 L729.2,877.3 L726.0,881.4 L722.8,885.5 L719.7,889.7 L716.5,893.8 L713.4,898.0 L710.2,902.1 L707.1,906.3 L704.0,910.5 L700.9,914.7 L697.8,918.9 L694.8,923.1 L691.7,927.3 L688.7,931.6 L685.7,935.8 L682.7,940.1 L679.7,944.4 L676.7,948.7 L673.7,953.0 L670.8,957.3 L667.8,961.6 L664.9,965.9 L662.0,970.3 L659.1,974.6 L656.2,979.0 L653.3,983.3 L650.5,987.7 L647.6,992.1 L644.8,996.5 L642.0,1000.9 L639.2,1005.3 L636.4,1009.7 L633.6,1014.1 L630.9,1018.6 L628.1,1023.0 L625.4,1027.5 L622.7,1032.0 L620.0,1036.4 L617.3,1040.9 L614.6,1045.4 L611.9,1049.9 L609.3,1054.4 L606.6,1058.9 L604.0,1063.4 L601.4,1067.9 L598.8,1072.5 L596.2,1077.0 L593.7,1081.6 L591.1,1086.1 L588.6,1090.7 L586.0,1095.2 L583.5,1099.8 L581.0,1104.4 L578.5,1109.0 L576.1,1113.5 L573.6,1118.1 L571.2,1122.7 L568.7,1127.3 L566.3,1131.9 L563.9,1136.5 L561.5,1141.1 L559.2,1145.8 L556.8,1150.4 L554.5,1155.0 L552.1,1159.6 L549.8,1164.2 L547.5,1168.9 L545.2,1173.5 L542.9,1178.1 L540.7,1182.8 L538.4,1187.4 L536.2,1192.0 L533.9,1196.7 L531.7,1201.3 L529.5,1206.0 L527.4,1210.6 L525.2,1215.2 L523.0,1219.9 L520.9,1224.5 L518.8,1229.1 L516.7,1233.8 L514.6,1238.4 L512.5,1243.0 L510.4,1247.7 L508.3,1252.3 L506.3,1256.9 L504.3,1261.5 L502.2,1266.2 L500.2,1270.8 L498.2,1275.4 L496.3,1280.0 L494.3,1284.6 L492.4,1289.2 L490.4,1293.8 L488.5,1298.4 L486.6,1302.9 L484.7,1307.5 L482.8,1312.1 L481.0,1316.6 L479.1,1321.2 L477.3,1325.7 L475.4,1330.2 L473.6,1334.8 L471.8,1339.3 L470.1,1343.8 L468.3,1348.3 L466.5,1352.8 L464.8,1357.2 L463.1,1361.7 L461.4,1366.2 L459.7,1370.6 L458.0,1375.0 L456.3,1379.5 L454.6,1383.9 L453.0,1388.2 L451.4,1392.6 L449.7,1397.0 L448.1,1401.3 L446.5,1405.7 L445.0,1410.0 L443.4,1414.3 L441.9,1418.6 L440.3,1422.9 L438.8,1427.1 L437.3,1431.4 L435.8,1435.6 L434.3,1439.8 L432.9,1444.0 L431.4,1448.1 L430.0,1452.3 L428.5,1456.4 L427.1,1460.5 L425.7,1464.6 L424.3,1468.6 L423.0,1472.7 L421.6,1476.7 L420.3,1480.7 L418.9,1484.7 L417.6,1488.6 L416.3,1492.5 L415.0,1496.4 L413.8,1500.3 L412.5,1504.2 L411.3,1508.0 L410.0,1511.8 L408.8,1515.6 L407.6,1519.3 L406.4,1523.0 L405.2,1526.7 L404.1,1530.4 L402.9,1534.0 L401.8,1537.6 L400.7,1541.2 L399.6,1544.8 L398.5,1548.3 L397.4,1551.8 L396.3,1555.2 L395.3,1558.6 L394.2,1562.0 L393.2,1565.4 L392.2,1568.7 L391.2,1572.0 L390.2,1575.3 L389.2,1578.5 L388.3,1581.7 L387.3,1584.8 L386.4,1588.0 L385.5,1591.0 L384.6,1594.1 L383.7,1597.1 L382.8,1600.1 L382.0,1603.0 L381.1,1605.9 L380.3,1608.8 L379.5,1611.6 L378.7,1614.4 L377.9,1617.1 L377.1,1619.8 L376.3,1622.5 L375.6,1625.1 L374.8,1627.7 L374.1,1630.2 L373.4,1632.7 L372.7,1635.2 L372.0,1637.6 L371.4,1639.9 L370.7,1642.3 L370.1,1644.5 L369.4,1646.8 L368.8,1649.0 L368.2,1651.1 L367.6,1653.2 L367.1,1655.3 L366.5,1657.3 L366.0,1659.3 L365.4,1661.2 L364.9,1663.1 L364.4,1664.9 L363.9,1666.7 L363.5,1668.4 L363.0,1670.1 L362.5,1671.8 L362.1,1673.4 L361.7,1674.9 L361.3,1676.4 L360.9,1677.8 L360.5,1679.2 L360.2,1680.6 L359.8,1681.9 L359.5,1683.2 L359.1,1684.4 L358.8,1685.5 L358.5,1686.6 L358.3,1687.7 L358.0,1688.7 L357.7,1689.6 L357.5,1690.5 L357.3,1691.4 L357.0,1692.2 L356.8,1692.9 L356.7,1693.6 L356.5,1694.3 L356.3,1694.9 L356.2,1695.4 L356.1,1695.9 L355.9,1696.3 L355.8,1696.7 L355.7,1697.1 L355.7,1697.4 L355.6,1697.6 L355.6,1697.8 L355.5,1697.9 L355.5,1698.0 L355.5,1698.0Z" fill="#dc0000"/>
<path d="M345.5,1698.0 L345.5,1688.0 L345.5,1688.0 L345.5,1687.9 L345.6,1687.8 L345.6,1687.7 L345.7,1687.5 L345.7,1687.2 L345.8,1686.9 L345.9,1686.6 L346.1,1686.2 L346.2,1685.8 L346.3,1685.4 L346.5,1684.9 L346.7,1684.3 L346.8,1683.7 L347.0,1683.1 L347.3,1682.4 L347.5,1681.7 L347.7,1680.9 L348.0,1680.1 L348.3,1679.3 L348.5,1678.4 L348.8,1677.5 L349.1,1676.5 L349.5,1675.5 L349.8,1674.4 L350.2,1673.3 L350.5,1672.1 L350.9,1670.9 L351.3,1669.7 L351.7,1668.4 L352.1,1667.1 L352.5,1665.8 L353.0,1664.4 L353.5,1662.9 L353.9,1661.4 L354.4,1659.9 L354.9,1658.4 L355.4,1656.7 L356.0,1655.1 L356.5,1653.4 L357.1,1651.7 L357.6,1649.9 L358.2,1648.1 L358.8,1646.2 L359.4,1644.4 L360.1,1642.4 L360.7,1640.5 L361.4,1638.4 L362.0,1636.4 L362.7,1634.3 L363.4,1632.2 L364.1,1630.0 L364.8,1627.8 L365.6,1625.6 L366.3,1623.3 L367.1,1620.9 L367.9,1618.6 L368.7,1616.2 L369.5,1613.8 L370.3,1611.3 L371.1,1608.8 L372.0,1606.2 L372.8,1603.6 L373.7,1601.0 L374.6,1598.4 L375.5,1595.7 L376.4,1593.0 L377.3,1590.2 L378.3,1587.4 L379.2,1584.6 L380.2,1581.7 L381.2,1578.8 L382.2,1575.9 L383.2,1572.9 L384.2,1569.9 L385.3,1566.8 L386.3,1563.8 L387.4,1560.7 L388.5,1557.5 L389.6,1554.3 L390.7,1551.1 L391.8,1547.9 L392.9,1544.6 L394.1,1541.3 L395.2,1538.0 L396.4,1534.6 L397.6,1531.3 L398.8,1527.8 L400.0,1524.4 L401.3,1520.9 L402.5,1517.4 L403.8,1513.8 L405.0,1510.3 L406.3,1506.7 L407.6,1503.0 L408.9,1499.4 L410.3,1495.7 L411.6,1492.0 L413.0,1488.2 L414.3,1484.5 L415.7,1480.7 L417.1,1476.9 L418.5,1473.0 L420.0,1469.1 L421.4,1465.2 L422.9,1461.3 L424.3,1457.4 L425.8,1453.4 L427.3,1449.4 L428.8,1445.4 L430.3,1441.3 L431.9,1437.3 L433.4,1433.2 L435.0,1429.1 L436.5,1424.9 L438.1,1420.8 L439.7,1416.6 L441.4,1412.4 L443.0,1408.2 L444.6,1403.9 L446.3,1399.6 L448.0,1395.4 L449.7,1391.1 L451.4,1386.7 L453.1,1382.4 L454.8,1378.0 L456.5,1373.6 L458.3,1369.2 L460.1,1364.8 L461.8,1360.4 L463.6,1355.9 L465.4,1351.5 L467.3,1347.0 L469.1,1342.5 L471.0,1338.0 L472.8,1333.4 L474.7,1328.9 L476.6,1324.3 L478.5,1319.7 L480.4,1315.1 L482.4,1310.5 L484.3,1305.9 L486.3,1301.3 L488.2,1296.6 L490.2,1292.0 L492.2,1287.3 L494.3,1282.6 L496.3,1277.9 L498.3,1273.2 L500.4,1268.5 L502.5,1263.7 L504.6,1259.0 L506.7,1254.2 L508.8,1249.5 L510.9,1244.7 L513.0,1239.9 L515.2,1235.1 L517.4,1230.3 L519.5,1225.5 L521.7,1220.7 L523.9,1215.9 L526.2,1211.1 L528.4,1206.2 L530.7,1201.4 L532.9,1196.5 L535.2,1191.7 L537.5,1186.8 L539.8,1182.0 L542.1,1177.1 L544.5,1172.2 L546.8,1167.3 L549.2,1162.5 L551.5,1157.6 L553.9,1152.7 L556.3,1147.8 L558.7,1142.9 L561.2,1138.0 L563.6,1133.1 L566.1,1128.2 L568.5,1123.3 L571.0,1118.4 L573.5,1113.4 L576.0,1108.5 L578.6,1103.6 L581.1,1098.7 L583.7,1093.8 L586.2,1088.9 L588.8,1084.0 L591.4,1079.1 L594.0,1074.2 L596.6,1069.2 L599.3,1064.3 L601.9,1059.4 L604.6,1054.5 L607.3,1049.6 L610.0,1044.7 L612.7,1039.8 L615.4,1035.0 L618.1,1030.1 L620.9,1025.2 L623.6,1020.3 L626.4,1015.4 L629.2,1010.6 L632.0,1005.7 L634.8,1000.8 L637.6,996.0 L640.5,991.1 L643.3,986.3 L646.2,981.5 L649.1,976.6 L652.0,971.8 L654.9,967.0 L657.8,962.2 L660.8,957.4 L663.7,952.6 L666.7,947.8 L669.7,943.0 L672.7,938.2 L675.7,933.5 L678.7,928.7 L681.7,924.0 L684.8,919.2 L687.8,914.5 L690.9,909.8 L694.0,905.1 L697.1,900.4 L700.2,895.7 L703.4,891.0 L706.5,886.4 L709.7,881.7 L712.8,877.1 L716.0,872.4 L719.2,867.8 L722.4,863.2 L725.7,858.6 L728.9,854.0 L732.2,849.4 L735.4,844.9 L738.7,840.3 L742.0,835.8 L745.3,831.3 L748.7,826.8 L752.0,822.3 L755.4,817.8 L758.7,813.3 L762.1,808.8 L765.5,804.4 L768.9,800.0 L772.3,795.6 L775.8,791.2 L779.2,786.8 L782.7,782.4 L786.1,778.0 L789.6,773.7 L793.1,769.4 L796.7,765.1 L800.2,760.8 L803.7,756.5 L807.3,752.2 L810.9,748.0 L814.5,743.7 L818.1,739.5 L821.7,735.3 L825.3,731.1 L828.9,727.0 L832.6,722.8 L836.3,718.7 L839.9,714.6 L843.6,710.4 L847.4,706.4 L851.1,702.3 L854.8,698.2 L858.6,694.2 L862.3,690.2 L866.1,686.2 L869.9,682.2 L873.7,678.2 L877.5,674.3 L881.4,670.4 L885.2,666.5 L889.1,662.6 L893.0,658.7 L896.8,654.8 L900.7,651.0 L904.7,647.2 L908.6,643.4 L912.5,639.6 L916.5,635.8 L920.5,632.1 L924.5,628.4 L928.5,624.6 L932.5,621.0 L936.5,617.3 L940.5,613.6 L944.6,610.0 L948.7,606.4 L952.7,602.8 L956.8,599.2 L961.0,595.6 L965.1,592.1 L969.2,588.6 L973.4,585.1 L977.5,581.6 L981.7,578.1 L985.9,574.7 L990.1,571.3 L994.3,567.9 L998.6,564.5 L1002.8,561.1 L1007.1,557.8 L1011.3,554.4 L1015.6,551.1 L1019.9,547.9 L1024.3,544.6 L1028.6,541.3 L1032.9,538.1 L1037.3,534.9 L1041.7,531.7 L1046.0,528.5 L1050.4,525.4 L1054.9,522.2 L1059.3,519.1 L1063.7,516.0 L1068.2,513.0 L1072.6,509.9 L1077.1,506.9 L1081.6,503.9 L1086.1,500.9 L1090.6,497.9 L1095.2,494.9 L1099.7,492.0 L1104.3,489.1 L1108.9,486.2 L1113.5,483.3 L1118.1,480.4 L1122.7,477.6 L1127.3,474.8 L1132.0,472.0 L1136.6,469.2 L1141.3,466.4 L1146.0,463.7 L1150.7,461.0 L1155.4,458.3 L1160.1,455.6 L1164.9,452.9 L1169.6,450.3 L1174.4,447.6 L1179.2,445.0 L1184.0,442.4 L1188.8,439.9 L1193.6,437.3 L1198.5,434.8 L1203.3,432.3 L1208.2,429.8 L1213.1,427.3 L1218.0,424.8 L1222.9,422.4 L1227.8,420.0 L1232.7,417.6 L1237.7,415.2 L1242.7,412.8 L1247.6,410.5 L1252.6,408.1 L1257.6,405.8 L1262.6,403.5 L1267.7,401.2 L1272.7,399.0 L1277.8,396.7 L1282.9,394.5 L1287.9,392.3 L1293.0,390.1 L1298.2,388.0 L1303.3,385.8 L1308.4,383.7 L1313.6,381.6 L1318.8,379.5 L1323.9,377.4 L1329.1,375.3 L1334.3,373.3 L1339.6,371.2 L1344.8,369.2 L1350.1,367.2 L1355.3,365.2 L1360.6,363.3 L1365.9,361.3 L1371.2,359.4 L1376.5,357.5 L1381.9,355.6 L1387.2,353.7 L1392.6,351.9 L1398.0,350.0 L1403.3,348.2 L1408.8,346.4 L1414.2,344.6 L1419.6,342.8 L1425.0,341.0 L1430.5,339.3 L1436.0,337.5 L1441.5,335.8 L1447.0,334.1 L1452.5,332.4 L1458.0,330.8 L1463.5,329.1 L1469.1,327.5 L1474.7,325.8 L1480.3,324.2 L1485.9,322.6 L1491.5,321.1 L1497.1,319.5 L1502.7,317.9 L1508.4,316.4 L1514.0,314.9 L1519.7,313.4 L1525.4,311.9 L1531.1,310.4 L1536.8,308.9 L1542.6,307.5 L1548.3,306.1 L1554.1,304.6 L1559.9,303.2 L1565.7,301.8 L1571.5,300.5 L1577.3,299.1 L1583.1,297.7 L1589.0,296.4 L1594.8,295.1 L1600.7,293.8 L1606.6,292.5 L1612.5,291.2 L1618.4,289.9 L1624.3,288.6 L1630.2,287.4 L1636.2,286.2 L1642.2,284.9 L1648.2,283.7 L1654.2,282.5 L1660.2,281.3 L1666.2,280.2 L1672.2,279.0 L1678.3,277.9 L1684.3,276.7 L1690.4,275.6 L1696.5,274.5 L1702.6,273.4 L1708.7,272.3 L1714.9,271.2 L1721.0,270.2 L1727.2,269.1 L1733.4,268.1 L1739.5,267.0 L1745.7,266.0 L1752.0,265.0 L1758.2,264.0 L1764.4,263.0 L1770.7,262.0 L1777.0,261.1 L1783.2,260.1 L1789.5,259.2 L1795.9,258.3 L1802.2,257.3 L1808.5,256.4 L1814.9,255.5 L1821.3,254.6 L1827.6,253.7 L1834.0,252.9 L1840.4,252.0 L1846.9,251.2 L1853.3,250.3 L1859.7,249.5 L1866.2,248.7 L1872.7,247.8 L1879.2,247.0 L1885.7,246.2 L1892.2,245.5 L1898.7,244.7 L1905.3,243.9 L1911.8,243.1 L1918.4,242.4 L1925.0,241.7 L1931.6,240.9 L1938.2,240.2 L1944.9,239.5 L1951.5,238.8 L1958.2,238.1 L1964.8,237.4 L1971.5,236.7 L1978.2,236.0 L1984.9,235.4 L1991.6,234.7 L1998.4,234.1 L2005.1,233.4 L2011.9,232.8 L2018.7,232.2 L2025.5,231.5 L2032.3,230.9 L2039.1,230.3 L2045.9,229.7 L2052.8,229.2 L2059.7,228.6 L2066.5,228.0 L2076.5,228.0 L2076.5,238.0 L2069.7,238.6 L2062.8,239.2 L2055.9,239.7 L2049.1,240.3 L2042.3,240.9 L2035.5,241.5 L2028.7,242.2 L2021.9,242.8 L2015.1,243.4 L2008.4,244.1 L2001.6,244.7 L1994.9,245.4 L1988.2,246.0 L1981.5,246.7 L1974.8,247.4 L1968.2,248.1 L1961.5,248.8 L1954.9,249.5 L1948.2,250.2 L1941.6,250.9 L1935.0,251.7 L1928.4,252.4 L1921.8,253.1 L1915.3,253.9 L1908.7,254.7 L1902.2,255.5 L1895.7,256.2 L1889.2,257.0 L1882.7,257.8 L1876.2,258.7 L1869.7,259.5 L1863.3,260.3 L1856.9,261.2 L1850.4,262.0 L1844.0,262.9 L1837.6,263.7 L1831.3,264.6 L1824.9,265.5 L1818.5,266.4 L1812.2,267.3 L1805.9,268.3 L1799.5,269.2 L1793.2,270.1 L1787.0,271.1 L1780.7,272.0 L1774.4,273.0 L1768.2,274.0 L1762.0,275.0 L1755.7,276.0 L1749.5,277.0 L1743.4,278.1 L1737.2,279.1 L1731.0,280.2 L1724.9,281.2 L1718.7,282.3 L1712.6,283.4 L1706.5,284.5 L1700.4,285.6 L1694.3,286.7 L1688.3,287.9 L1682.2,289.0 L1676.2,290.2 L1670.2,291.3 L1664.2,292.5 L1658.2,293.7 L1652.2,294.9 L1646.2,296.2 L1640.2,297.4 L1634.3,298.6 L1628.4,299.9 L1622.5,301.2 L1616.6,302.5 L1610.7,303.8 L1604.8,305.1 L1599.0,306.4 L1593.1,307.7 L1587.3,309.1 L1581.5,310.5 L1575.7,311.8 L1569.9,313.2 L1564.1,314.6 L1558.3,316.1 L1552.6,317.5 L1546.8,318.9 L1541.1,320.4 L1535.4,321.9 L1529.7,323.4 L1524.0,324.9 L1518.4,326.4 L1512.7,327.9 L1507.1,329.5 L1501.5,331.1 L1495.9,332.6 L1490.3,334.2 L1484.7,335.8 L1479.1,337.5 L1473.5,339.1 L1468.0,340.8 L1462.5,342.4 L1457.0,344.1 L1451.5,345.8 L1446.0,347.5 L1440.5,349.3 L1435.0,351.0 L1429.6,352.8 L1424.2,354.6 L1418.8,356.4 L1413.3,358.2 L1408.0,360.0 L1402.6,361.9 L1397.2,363.7 L1391.9,365.6 L1386.5,367.5 L1381.2,369.4 L1375.9,371.3 L1370.6,373.3 L1365.3,375.2 L1360.1,377.2 L1354.8,379.2 L1349.6,381.2 L1344.3,383.3 L1339.1,385.3 L1333.9,387.4 L1328.8,389.5 L1323.6,391.6 L1318.4,393.7 L1313.3,395.8 L1308.2,398.0 L1303.0,400.1 L1297.9,402.3 L1292.9,404.5 L1287.8,406.7 L1282.7,409.0 L1277.7,411.2 L1272.6,413.5 L1267.6,415.8 L1262.6,418.1 L1257.6,420.5 L1252.7,422.8 L1247.7,425.2 L1242.7,427.6 L1237.8,430.0 L1232.9,432.4 L1228.0,434.8 L1223.1,437.3 L1218.2,439.8 L1213.3,442.3 L1208.5,444.8 L1203.6,447.3 L1198.8,449.9 L1194.0,452.4 L1189.2,455.0 L1184.4,457.6 L1179.6,460.3 L1174.9,462.9 L1170.1,465.6 L1165.4,468.3 L1160.7,471.0 L1156.0,473.7 L1151.3,476.4 L1146.6,479.2 L1142.0,482.0 L1137.3,484.8 L1132.7,487.6 L1128.1,490.4 L1123.5,493.3 L1118.9,496.2 L1114.3,499.1 L1109.7,502.0 L1105.2,504.9 L1100.6,507.9 L1096.1,510.9 L1091.6,513.9 L1087.1,516.9 L1082.6,519.9 L1078.2,523.0 L1073.7,526.0 L1069.3,529.1 L1064.9,532.2 L1060.4,535.4 L1056.0,538.5 L1051.7,541.7 L1047.3,544.9 L1042.9,548.1 L1038.6,551.3 L1034.3,554.6 L1029.9,557.9 L1025.6,561.1 L1021.3,564.4 L1017.1,567.8 L1012.8,571.1 L1008.6,574.5 L1004.3,577.9 L1000.1,581.3 L995.9,584.7 L991.7,588.1 L987.5,591.6 L983.4,595.1 L979.2,598.6 L975.1,602.1 L971.0,605.6 L966.8,609.2 L962.7,612.8 L958.7,616.4 L954.6,620.0 L950.5,623.6 L946.5,627.3 L942.5,631.0 L938.5,634.6 L934.5,638.4 L930.5,642.1 L926.5,645.8 L922.5,649.6 L918.6,653.4 L914.7,657.2 L910.7,661.0 L906.8,664.8 L903.0,668.7 L899.1,672.6 L895.2,676.5 L891.4,680.4 L887.5,684.3 L883.7,688.2 L879.9,692.2 L876.1,696.2 L872.3,700.2 L868.6,704.2 L864.8,708.2 L861.1,712.3 L857.4,716.4 L853.6,720.4 L849.9,724.6 L846.3,728.7 L842.6,732.8 L838.9,737.0 L835.3,741.1 L831.7,745.3 L828.1,749.5 L824.5,753.7 L820.9,758.0 L817.3,762.2 L813.7,766.5 L810.2,770.8 L806.7,775.1 L803.1,779.4 L799.6,783.7 L796.1,788.0 L792.7,792.4 L789.2,796.8 L785.8,801.2 L782.3,805.6 L778.9,810.0 L775.5,814.4 L772.1,818.8 L768.7,823.3 L765.4,827.8 L762.0,832.3 L758.7,836.8 L755.3,841.3 L752.0,845.8 L748.7,850.3 L745.4,854.9 L742.2,859.4 L738.9,864.0 L735.7,868.6 L732.4,873.2 L729.2,877.8 L726.0,882.4 L722.8,887.1 L719.7,891.7 L716.5,896.4 L713.4,901.0 L710.2,905.7 L707.1,910.4 L704.0,915.1 L700.9,919.8 L697.8,924.5 L694.8,929.2 L691.7,934.0 L688.7,938.7 L685.7,943.5 L682.7,948.2 L679.7,953.0 L676.7,957.8 L673.7,962.6 L670.8,967.4 L667.8,972.2 L664.9,977.0 L662.0,981.8 L659.1,986.6 L656.2,991.5 L653.3,996.3 L650.5,1001.1 L647.6,1006.0 L644.8,1010.8 L642.0,1015.7 L639.2,1020.6 L636.4,1025.4 L633.6,1030.3 L630.9,1035.2 L628.1,1040.1 L625.4,1045.0 L622.7,1049.8 L620.0,1054.7 L617.3,1059.6 L614.6,1064.5 L611.9,1069.4 L609.3,1074.3 L606.6,1079.2 L604.0,1084.2 L601.4,1089.1 L598.8,1094.0 L596.2,1098.9 L593.7,1103.8 L591.1,1108.7 L588.6,1113.6 L586.0,1118.5 L583.5,1123.4 L581.0,1128.4 L578.5,1133.3 L576.1,1138.2 L573.6,1143.1 L571.2,1148.0 L568.7,1152.9 L566.3,1157.8 L563.9,1162.7 L561.5,1167.6 L559.2,1172.5 L556.8,1177.3 L554.5,1182.2 L552.1,1187.1 L549.8,1192.0 L547.5,1196.8 L545.2,1201.7 L542.9,1206.5 L540.7,1211.4 L538.4,1216.2 L536.2,1221.1 L533.9,1225.9 L531.7,1230.7 L529.5,1235.5 L527.4,1240.3 L525.2,1245.1 L523.0,1249.9 L520.9,1254.7 L518.8,1259.5 L516.7,1264.2 L514.6,1269.0 L512.5,1273.7 L510.4,1278.5 L508.3,1283.2 L506.3,1287.9 L504.3,1292.6 L502.2,1297.3 L500.2,1302.0 L498.2,1306.6 L496.3,1311.3 L494.3,1315.9 L492.4,1320.5 L490.4,1325.1 L488.5,1329.7 L486.6,1334.3 L484.7,1338.9 L482.8,1343.4 L481.0,1348.0 L479.1,1352.5 L477.3,1357.0 L475.4,1361.5 L473.6,1365.9 L471.8,1370.4 L470.1,1374.8 L468.3,1379.2 L466.5,1383.6 L464.8,1388.0 L463.1,1392.4 L461.4,1396.7 L459.7,1401.1 L458.0,1405.4 L456.3,1409.6 L454.6,1413.9 L453.0,1418.2 L451.4,1422.4 L449.7,1426.6 L448.1,1430.8 L446.5,1434.9 L445.0,1439.1 L443.4,1443.2 L441.9,1447.3 L440.3,1451.3 L438.8,1455.4 L437.3,1459.4 L435.8,1463.4 L434.3,1467.4 L432.9,1471.3 L431.4,1475.2 L430.0,1479.1 L428.5,1483.0 L427.1,1486.9 L425.7,1490.7 L424.3,1494.5 L423.0,1498.2 L421.6,1502.0 L420.3,1505.7 L418.9,1509.4 L417.6,1513.0 L416.3,1516.7 L415.0,1520.3 L413.8,1523.8 L412.5,1527.4 L411.3,1530.9 L410.0,1534.4 L408.8,1537.8 L407.6,1541.3 L406.4,1544.6 L405.2,1548.0 L404.1,1551.3 L402.9,1554.6 L401.8,1557.9 L400.7,1561.1 L399.6,1564.3 L398.5,1567.5 L397.4,1570.7 L396.3,1573.8 L395.3,1576.8 L394.2,1579.9 L393.2,1582.9 L392.2,1585.9 L391.2,1588.8 L390.2,1591.7 L389.2,1594.6 L388.3,1597.4 L387.3,1600.2 L386.4,1603.0 L385.5,1605.7 L384.6,1608.4 L383.7,1611.0 L382.8,1613.6 L382.0,1616.2 L381.1,1618.8 L380.3,1621.3 L379.5,1623.8 L378.7,1626.2 L377.9,1628.6 L377.1,1630.9 L376.3,1633.3 L375.6,1635.6 L374.8,1637.8 L374.1,1640.0 L373.4,1642.2 L372.7,1644.3 L372.0,1646.4 L371.4,1648.4 L370.7,1650.5 L370.1,1652.4 L369.4,1654.4 L368.8,1656.2 L368.2,1658.1 L367.6,1659.9 L367.1,1661.7 L366.5,1663.4 L366.0,1665.1 L365.4,1666.7 L364.9,1668.4 L364.4,1669.9 L363.9,1671.4 L363.5,1672.9 L363.0,1674.4 L362.5,1675.8 L362.1,1677.1 L361.7,1678.4 L361.3,1679.7 L360.9,1680.9 L360.5,1682.1 L360.2,1683.3 L359.8,1684.4 L359.5,1685.5 L359.1,1686.5 L358.8,1687.5 L358.5,1688.4 L358.3,1689.3 L358.0,1690.1 L357.7,1690.9 L357.5,1691.7 L357.3,1692.4 L357.0,1693.1 L356.8,1693.7 L356.7,1694.3 L356.5,1694.9 L356.3,1695.4 L356.2,1695.8 L356.1,1696.2 L355.9,1696.6 L355.8,1696.9 L355.7,1697.2 L355.7,1697.5 L355.6,1697.7 L355.6,1697.8 L355.5,1697.9 L355.5,1698.0 L355.5,1698.0Z" fill="#00ff00"/>
</g>
<rect x="1692.5" y="985.5" width="491.5" height="497" fill="#fff" stroke="#10293b" stroke-width="8.5"/>
<rect x="1768.5" y="1050" width="36" height="35.5" fill="#0b2438"/><rect x="1780.5" y="1062" width="12" height="12" fill="#1e7cad"/>
<path d="M1717,1171.8H1877" stroke="#0000ff" stroke-width="10.8"/>
<path d="M1717,1279.8H1877" stroke="#c80000" stroke-width="10.8"/>
<path d="M1717,1396H1877" stroke="#00ff00" stroke-width="10.8"/>
<text class="ti" x="1865" y="1069.5" font-size="73.5">q<tspan font-size="51" dy="18">tc,</tspan><tspan dy="-18" dx="-6"> exp</tspan></text>
<text class="ti" transform="translate(1910.5,1198.5) scale(1.10,1)" font-size="71">IP</text>
<text class="ti" transform="translate(1908.5,1306.5) scale(1.10,1)" font-size="71">PSO</text>
<text class="ti" transform="translate(1908.5,1422) scale(1.10,1)" font-size="71">PFO</text>
</svg></body></html>
